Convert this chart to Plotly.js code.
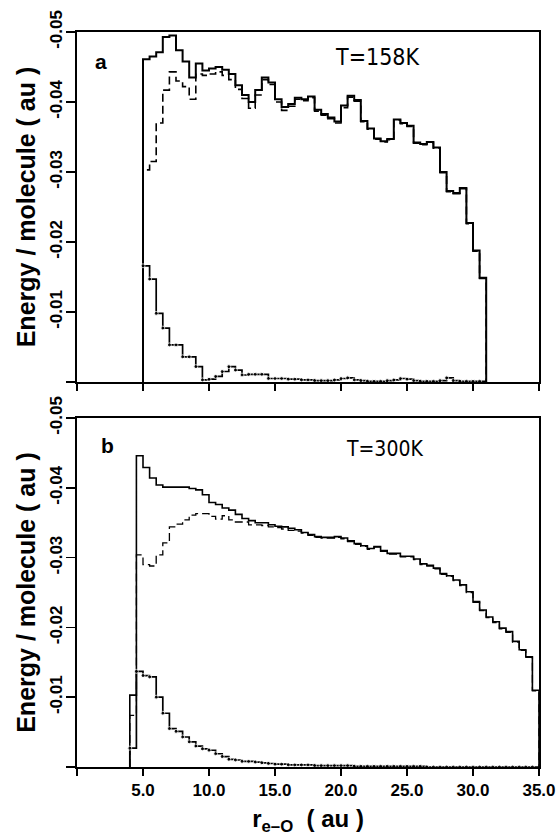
<!DOCTYPE html>
<html>
<head>
<meta charset="utf-8">
<script src="https://cdn.plot.ly/plotly-3.0.1.min.js"></script>
<style>html,body{margin:0;padding:0;background:#fff;}#chart{width:559px;height:836px;}</style>
</head>
<body>
<div id="chart"></div>
<script>
// ---- Data (bin left edges, bin values in au) ----
const binsA = [5.0,5.5,6.0,6.5,7.0,7.5,8.0,8.5,9.0,9.5,10.0,10.5,11.0,11.5,12.0,12.5,13.0,13.5,14.0,14.5,
  15.0,15.5,16.0,16.5,17.0,17.5,18.0,18.5,19.0,19.5,20.0,20.5,21.0,21.5,22.0,22.5,23.0,23.5,24.0,24.5,
  25.0,25.5,26.0,26.5,27.0,27.5,28.0,28.5,29.0,29.5,30.0,30.5];
const endA = 31.0;
const totalA = [-0.0461,-0.0465,-0.0471,-0.0493,-0.0495,-0.0474,-0.0458,-0.0435,-0.0455,-0.0445,
  -0.0448,-0.0450,-0.0446,-0.0440,-0.0424,-0.0410,-0.0400,-0.0417,-0.0435,-0.0428,
  -0.0404,-0.0393,-0.0397,-0.0406,-0.0404,-0.0408,-0.0389,-0.0383,-0.0378,-0.0372,
  -0.0395,-0.0409,-0.0403,-0.0373,-0.0362,-0.0348,-0.0344,-0.0347,-0.0375,-0.0370,
  -0.0366,-0.0342,-0.0340,-0.0343,-0.0335,-0.0300,-0.0273,-0.0270,-0.0277,-0.0227,
  -0.0188,-0.0149];
const dashedA = [-0.0303,-0.0315,-0.0370,-0.0417,-0.0443,-0.0430,-0.0422,-0.0404,-0.0440,-0.0438,
  -0.0440,-0.0443,-0.0438,-0.0432,-0.0418,-0.0405,-0.0391,-0.0410,-0.0432,-0.0425,
  -0.0400,-0.0388,-0.0394,-0.0404,-0.0402,-0.0406,-0.0387,-0.0381,-0.0376,-0.0370,
  -0.0392,-0.0407,-0.0401,-0.0372,-0.0361,-0.0347,-0.0343,-0.0346,-0.0374,-0.0369,
  -0.0365,-0.0341,-0.0339,-0.0342,-0.0334,-0.0299,-0.0272,-0.0269,-0.0276,-0.0226,
  -0.0187,-0.0148];
const lowerA = [-0.0166,-0.0147,-0.0098,-0.0077,-0.0053,-0.0053,-0.0036,-0.0036,-0.0022,-0.0003,
  -0.0004,-0.0008,-0.0015,-0.0022,-0.0017,-0.0010,-0.0011,-0.0011,-0.0011,-0.0005,
  -0.0005,-0.0005,-0.0004,-0.0004,-0.0003,-0.0003,-0.0002,-0.0002,-0.0002,-0.0003,
  -0.0005,-0.0006,-0.0003,-0.0002,-0.0001,-0.0001,-0.0001,-0.0002,-0.0003,-0.0005,
  -0.0004,-0.0002,-0.0001,-0.0001,-0.0001,-0.0002,-0.0006,-0.0002,-0.0001,-0.0001,
  -0.0001,-0.0001];

const binsB = [4.0,4.5,5.0,5.5,6.0,6.5,7.0,7.5,8.0,8.5,9.0,9.5,10.0,10.5,11.0,11.5,12.0,12.5,13.0,13.5,
  14.0,14.5,15.0,15.5,16.0,16.5,17.0,17.5,18.0,18.5,19.0,19.5,20.0,20.5,21.0,21.5,22.0,22.5,23.0,23.5,
  24.0,24.5,25.0,25.5,26.0,26.5,27.0,27.5,28.0,28.5,29.0,29.5,30.0,30.5,31.0,31.5,32.0,32.5,33.0,33.5,
  34.0,34.5];
const endB = 35.0;
const totalB = [-0.0103,-0.0446,-0.0429,-0.0414,-0.0404,-0.0401,-0.0401,-0.0401,-0.0401,-0.0399,
  -0.0397,-0.0390,-0.0379,-0.0376,-0.0371,-0.0368,-0.0362,-0.0356,-0.0353,-0.0350,
  -0.0350,-0.0347,-0.0345,-0.0344,-0.0342,-0.0340,-0.0336,-0.0333,-0.0330,-0.0329,
  -0.0329,-0.0330,-0.0328,-0.0324,-0.0320,-0.0317,-0.0313,-0.0316,-0.0310,-0.0306,
  -0.0306,-0.0302,-0.0302,-0.0298,-0.0291,-0.0289,-0.0285,-0.0277,-0.0274,-0.0268,
  -0.0261,-0.0251,-0.0237,-0.0225,-0.0215,-0.0208,-0.0199,-0.0194,-0.0180,-0.0168,
  -0.0158,-0.0110];
const dashedB = [-0.0074,-0.0304,-0.0290,-0.0288,-0.0304,-0.0321,-0.0344,-0.0348,-0.0354,-0.0361,
  -0.0363,-0.0363,-0.0359,-0.0355,-0.0360,-0.0354,-0.0351,-0.0351,-0.0347,-0.0347,
  -0.0346,-0.0344,-0.0343,-0.0341,-0.0339,-0.0338,-0.0335,-0.0332,-0.0329,-0.0328,
  -0.0328,-0.0329,-0.0327,-0.0323,-0.0319,-0.0316,-0.0312,-0.0315,-0.0309,-0.0305,
  -0.0305,-0.0301,-0.0301,-0.0297,-0.0290,-0.0288,-0.0284,-0.0276,-0.0273,-0.0267,
  -0.0260,-0.0250,-0.0236,-0.0224,-0.0214,-0.0207,-0.0198,-0.0193,-0.0179,-0.0167,
  -0.0157,-0.0109];
const lowerB = [-0.0027,-0.0137,-0.0131,-0.0129,-0.0100,-0.0077,-0.0055,-0.0051,-0.0043,-0.0036,
  -0.0030,-0.0026,-0.0024,-0.0019,-0.0015,-0.0011,-0.0010,-0.0008,-0.0008,-0.0007,
  -0.0006,-0.0005,-0.0004,-0.0004,-0.0003,-0.0003,-0.0003,-0.0003,-0.0002,-0.0002,
  -0.0002,-0.0002,-0.0002,-0.0002,-0.0001,-0.0001,-0.0001,-0.0001,-0.0001,-0.0001,
  -0.0001,-0.0001,-0.0001,-0.0001,-0.0001,0,0,0,0,0,
  0,0,0,0,0,0,0,0,0,0,
  0,0];

const xTickVals = [5,10,15,20,25,30,35];
const xTickText = ['5.0','10.0','15.0','20.0','25.0','30.0','35.0'];
const yTickVals = [-0.01,-0.02,-0.03,-0.04,-0.05];
const yTickText = ['-0.01','-0.02','-0.03','-0.04','-0.05'];

// ---- helpers ----
function stepTrace(bins, end, vals, xa, ya, dash, width, dots) {
  const x = [bins[0]].concat(bins, [end]);
  const y = [0].concat(vals, [0]);
  const t = {x: x, y: y, xaxis: xa, yaxis: ya, type: 'scatter',
    mode: dots ? 'lines+markers' : 'lines',
    line: {shape: 'hv', color: '#000', width: width, dash: dash},
    hoverinfo: 'skip'};
  if (dots) {
    t.marker = {color: '#000', size: x.map((v, i) => (i === 0 || i === x.length - 1) ? 0 : 4)};
  }
  return t;
}

const data = [
  stepTrace(binsA, endA, dashedA, 'x', 'y', '8px,4px', 1.6, false),
  stepTrace(binsA, endA, totalA, 'x', 'y', 'solid', 2, false),
  stepTrace(binsA, endA, lowerA, 'x', 'y', 'solid', 1.7, true),
  stepTrace(binsB, endB, dashedB, 'x2', 'y2', '8px,4px', 1.3, false),
  stepTrace(binsB, endB, totalB, 'x2', 'y2', 'solid', 1.6, false),
  stepTrace(binsB, endB, lowerB, 'x2', 'y2', 'solid', 1.7, true)
];

const fam = 'Liberation Sans, Arial, sans-serif';
const tickFont = {family: fam, size: 17, color: '#000', weight: 'bold'};
const titleFont = {family: fam, size: 25, color: '#000', weight: 'bold'};
const narrow = 'Liberation Sans Narrow, DejaVu Sans Condensed, Liberation Sans, sans-serif';

function xAxis(anchor, labels) {
  return {anchor: anchor, domain: [0, 1], range: [0, 35], showline: true, mirror: true,
    linecolor: '#000', linewidth: 2, ticks: 'outside', ticklen: 7, tickwidth: 1.5, tickcolor: '#000',
    tickvals: xTickVals, ticktext: xTickText, showticklabels: labels,
    tickfont: {family: fam, size: 17, color: '#000', weight: 'bold'},
    minor: {tickvals: [0], ticks: 'outside', ticklen: 7, tickwidth: 1.5, tickcolor: '#000', showgrid: false},
    showgrid: false, zeroline: false, fixedrange: true};
}
function yAxis(anchor, domain) {
  return {anchor: anchor, domain: domain, range: [0, -0.05], showline: true, mirror: true,
    linecolor: '#000', linewidth: 2, ticks: 'outside', ticklen: 9, tickwidth: 1.5, tickcolor: '#000',
    tickvals: yTickVals, ticktext: yTickText, tickangle: -90, tickfont: tickFont, ticklabelstandoff: -3,
    minor: {tickvals: [0], ticks: 'outside', ticklen: 9, tickwidth: 1.5, tickcolor: '#000', showgrid: false},
    showgrid: false, zeroline: false, fixedrange: true,
    title: {text: 'Energy / molecule ( au )', font: titleFont, standoff: 4}};
}

const xTitle = {text: 'r<sub>e–O</sub>  ( au )', font: {family: fam, size: 24, color: '#000', weight: 'bold'}, standoff: 16};

const layout = {
  width: 559, height: 836,
  margin: {l: 77, r: 20, t: 32, b: 69},
  paper_bgcolor: '#fff', plot_bgcolor: '#fff',
  showlegend: false,
  xaxis: xAxis('y', false),
  yaxis: yAxis('x', [0.5238, 1]),
  xaxis2: Object.assign(xAxis('y2', true), {title: xTitle}),
  yaxis2: yAxis('x2', [0, 0.4748]),
  annotations: [
    {xref: 'x', yref: 'y', x: 1.8, y: -0.0458, text: 'a', showarrow: false, font: {family: fam, size: 21, color: '#000', weight: 'bold'}},
    {xref: 'x', yref: 'y', x: 22.7, y: -0.0465, text: 'T=158K', showarrow: false, font: {family: narrow, size: 23, color: '#000'}},
    {xref: 'x2', yref: 'y2', x: 2.3, y: -0.0461, text: 'b', showarrow: false, font: {family: fam, size: 21, color: '#000', weight: 'bold'}},
    {xref: 'x2', yref: 'y2', x: 23.3, y: -0.0456, text: 'T=300K', showarrow: false, font: {family: narrow, size: 21, color: '#000'}}
  ]
};

Plotly.newPlot('chart', data, layout, {staticPlot: true, displayModeBar: false});
</script>
</body>
</html>
